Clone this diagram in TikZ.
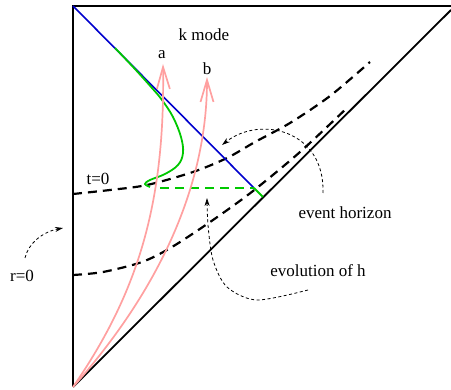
\documentclass[tikz,border=0pt]{standalone}
\usepackage{fontspec}
\setmainfont{Liberation Serif}
\usetikzlibrary{arrows.meta}
\definecolor{pinkc}{RGB}{255,160,160}
\definecolor{bluec}{RGB}{0,0,205}
\definecolor{greenc}{RGB}{0,200,0}
\begin{document}
\begin{tikzpicture}[x=1pt,y=-1pt,
  lbl/.style={inner sep=0pt, font=\fontsize{17}{20}\selectfont},
  frame/.style={line width=2.2pt},
  horizon/.style={line width=1.8pt},
  slice/.style={line width=2.2pt, dash pattern=on 9pt off 6pt},
  pinkarrow/.style={draw=pinkc, line width=1.7pt, -{Straight Barb[length=22pt,width=13pt,line width=1.7pt]}},
  note/.style={line width=0.8pt, dash pattern=on 3pt off 2.5pt, -{Stealth[length=8pt,width=5pt]}},
]
\useasboundingbox (0,0) rectangle (451,390);
% frame
\coordinate (TL) at (73,6);
\coordinate (TR) at (451,6);
\coordinate (BL) at (73,387);
\coordinate (DR) at (451,10);
\coordinate (EH) at (254,188);
\coordinate (EHd) at (263,197);
\coordinate (GD) at (160,188);
\draw[frame] (TR) -- (TL) -- (BL);
\draw[horizon] (BL) -- (DR);
% time slices
\draw[slice] plot[smooth] coordinates {(73,194) (110,190) (147,185) (193,172) (227,158) (255,142) (290,123) (330,96) (370,62)};
\draw[slice] plot[smooth] coordinates {(73,275) (103,272) (142,262) (172,247) (213,220) (253,191) (300,152) (348,107)};
% apparent horizon / mode
\draw[bluec, line width=1.6pt] (TL) -- (EH);
\draw[greenc, line width=1.8pt] (EH) -- (EHd);
\draw[greenc, line width=2pt, dash pattern=on 9pt off 6pt] (GD) -- (EH);
\draw[greenc, line width=1.8pt] plot[smooth, tension=0.6] coordinates {(115,48) (134,68) (152,88) (162,100) (173,117) (181,137) (183,153) (178,165) (165,174) (150,180) (145,184) (150,187)};
% pink worldlines
\node[lbl] (a) at (162,55) {a};
\node[lbl] (b) at (207,69) {b};
\coordinate (atip) at (163,64);
\coordinate (btip) at (207,77);
\draw[pinkarrow] (BL) .. controls (140,290) and (165,200) .. (atip);
\draw[pinkarrow] (BL) .. controls (155,295) and (207,190) .. (btip);
% labels
\node[lbl] (k) at (204,35) {k mode};
\node[lbl] (t) at (98,179) {t=0};
\node[lbl] (r) at (22,276) {r=0};
\node[lbl] (ev) at (345,213) {event horizon};
\node[lbl] (eh) at (318,271) {evolution of h};
% annotation arrows
\coordinate (r0s) at (25,258);
\coordinate (r0e) at (63,228);
\draw[note] (r0s) .. controls (28,244) and (42,232) .. (r0e);
\coordinate (evs) at (323,193);
\coordinate (eve) at (222,145);
\draw[note] (evs) .. controls (325,130) and (260,115) .. (eve);
\coordinate (ehs) at (308,290);
\coordinate (ehe) at (207,198);
\draw[note] plot[smooth] coordinates {(ehs) (257,300) (227,287) (213,260) (208,225) (ehe)};
\end{tikzpicture}
\end{document}
